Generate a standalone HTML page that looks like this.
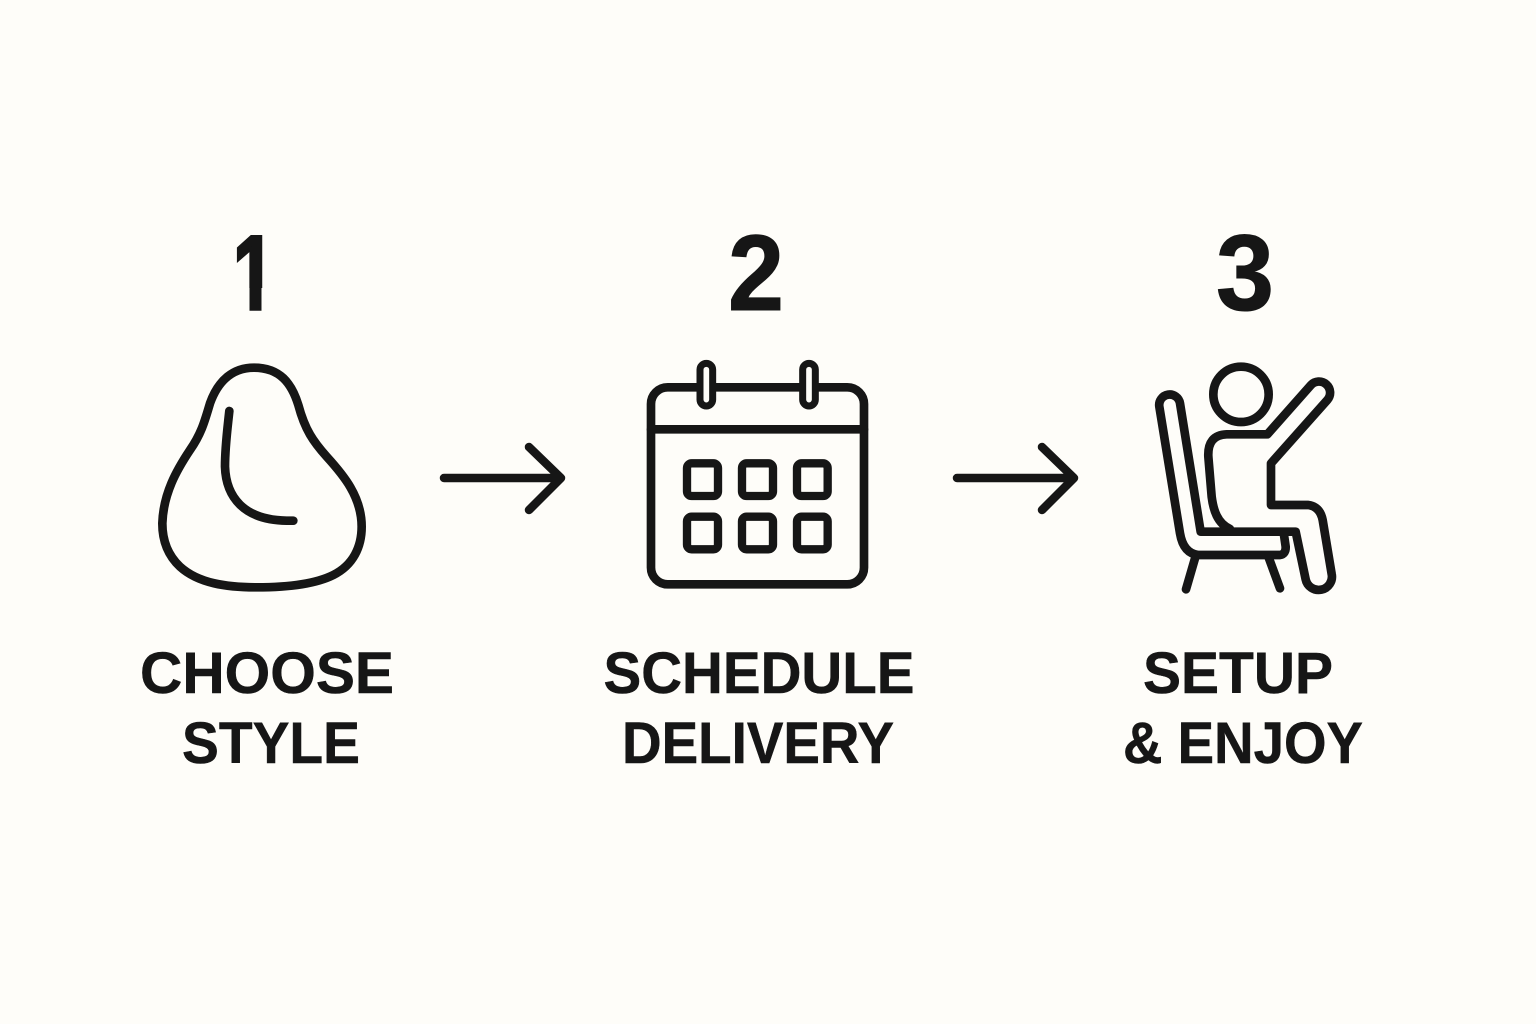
<!DOCTYPE html>
<html><head><meta charset="utf-8"><style>
html,body{margin:0;padding:0;background:#fefdf9}
svg{display:block}
text{font-family:"Liberation Sans",sans-serif;font-weight:700;fill:#161616;text-anchor:middle}
.n{font-size:108px;stroke:#161616;stroke-width:1px}
.o{font-size:105px;stroke:#161616;stroke-width:3.5px}
.l{font-size:58px;stroke:#161616;stroke-width:.5px}
</style></head><body>
<svg width="1536" height="1024" viewBox="0 0 1536 1024" xmlns="http://www.w3.org/2000/svg">
<rect width="1536" height="1024" fill="#fefdf9"/>
<text class="o" x="254" y="309" textLength="42" lengthAdjust="spacingAndGlyphs">1</text>
<rect x="222" y="288" width="27.5" height="28" fill="#fefdf9"/>
<rect x="261.5" y="288" width="26" height="28" fill="#fefdf9"/>
<text class="n" x="756" y="310" textLength="56" lengthAdjust="spacingAndGlyphs">2</text>
<text class="n" x="1245" y="310" textLength="58" lengthAdjust="spacingAndGlyphs">3</text>
<text class="l" x="267" y="693" textLength="254" lengthAdjust="spacingAndGlyphs">CHOOSE</text>
<text class="l" x="271" y="763" textLength="178" lengthAdjust="spacingAndGlyphs">STYLE</text>
<text class="l" x="759" y="693" textLength="311" lengthAdjust="spacingAndGlyphs">SCHEDULE</text>
<text class="l" x="758" y="763" textLength="272" lengthAdjust="spacingAndGlyphs">DELIVERY</text>
<text class="l" x="1238" y="693" textLength="190" lengthAdjust="spacingAndGlyphs">SETUP</text>
<text class="l" x="1243" y="763" textLength="240" lengthAdjust="spacingAndGlyphs">&amp; ENJOY</text>
<g fill="none" stroke="#161616" stroke-linecap="round" stroke-linejoin="round">
<g transform="translate(140,350) scale(.33333)" stroke-width="26">
<path d="M342,53 C420,53 455,100 475,165 C495,240 520,275 560,320 C610,375 665,440 665,530 C665,590 640,645 580,675 C520,705 430,712 350,712 C260,712 175,700 120,650 C85,617 67,575 67,520 C70,430 110,360 150,300 C185,250 195,210 210,160 C235,90 280,53 342,53 Z"/>
<path d="M268,183 C262,240 255,290 255,350 C258,440 310,510 440,512 L460,512"/>
</g>
<g stroke-width="8.5">
<path d="M444,478 H560 M529,447 L561,478 L529,510"/>
<path d="M957,478 H1073 M1042,447 L1074,478 L1042,510"/>
</g>
<g transform="translate(630,350) scale(.33333)" stroke-width="26">
<rect x="63" y="112" width="639" height="591" rx="50"/>
<path d="M63,238 H702" />
<g fill="#fefdf9" stroke-width="21">
<rect x="210" y="40" width="38" height="128" rx="19"/>
<rect x="518" y="40" width="38" height="128" rx="19"/>
</g>
<g stroke-width="25">
<rect x="171" y="340" width="93" height="98" rx="14"/>
<rect x="336" y="340" width="93" height="98" rx="14"/>
<rect x="501" y="340" width="92" height="98" rx="14"/>
<rect x="171" y="500" width="93" height="98" rx="14"/>
<rect x="336" y="500" width="93" height="98" rx="14"/>
<rect x="501" y="500" width="92" height="98" rx="14"/>
</g>
</g>
<g transform="translate(1130,350) scale(.33333)" stroke-width="26">
<circle cx="333" cy="133" r="83"/>
<path d="M300,537 C262,520 250,480 245,440 L235,320 Q232,255 290,253 L412,253 L542,106 A33,33 0 0 1 592,150 L423,340 L423,465 L535,465 Q570,470 578,510 L605,672 A39,39 0 0 1 527,688 L497,545 L212,545 L150,160 A31,31 0 0 0 88,170 L150,550 Q160,610 205,615 L450,615 Q468,612 467,590 L462,555"/>
<path d="M195,625 L168,718 M415,620 L450,715"/>
</g>
</g>
</svg>
</body></html>
